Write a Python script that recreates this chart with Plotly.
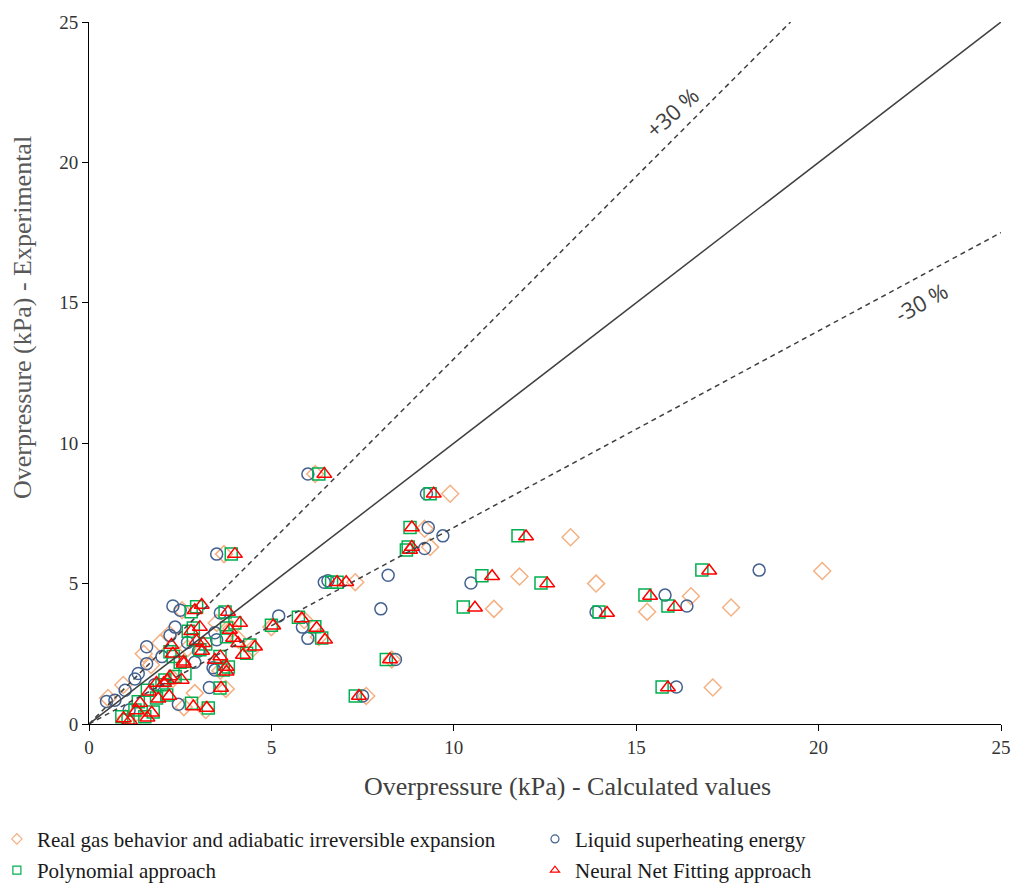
import plotly.graph_objects as go

# ---- data ----
real_gas_x = [6.2, 9.9, 9.2, 9.35, 13.2, 7.3, 11.8, 13.9, 20.1, 11.1,
              16.5, 17.6, 15.3, 17.1, 7.6, 8.3, 3.7, 2.55, 1.95, 0.94,
              0.52, 2.2, 2.7, 3.5, 3.9, 4.5, 3.6, 3.75, 2.6, 1.3,
              1.0, 2.3, 5.0, 5.9, 6.3, 2.9, 3.2, 1.5, 1.7, 4.1]
real_gas_y = [8.9, 8.2, 6.95, 6.3, 6.65, 5.05, 5.25, 5.0, 5.45, 4.1,
              4.55, 4.15, 4.0, 1.3, 1.0, 2.3, 6.05, 4.05, 2.88, 1.39,
              0.93, 3.2, 2.7, 3.6, 3.4, 2.7, 1.9, 1.25, 0.6, 0.4,
              0.2, 1.6, 3.45, 3.7, 3.1, 1.1, 0.5, 2.5, 2.1, 3.0]

lse_x = [6.0, 9.25, 9.3, 9.7, 9.2, 8.2, 6.45, 6.55, 10.47, 18.37,
         8.0, 15.79, 16.39, 13.9, 16.1, 7.5, 8.4, 5.2, 5.85, 6.0,
         3.5, 2.3, 2.5, 3.6, 3.5, 3.4, 3.45, 3.3, 2.45, 1.58,
         1.58, 1.35, 1.26, 0.99, 0.71, 0.48, 2.22, 2.36, 2.0, 2.7,
         3.0, 1.8, 1.1, 2.9, 3.45]
lse_y = [8.9, 8.2, 7.0, 6.7, 6.25, 5.3, 5.05, 5.1, 5.02, 5.48,
         4.1, 4.59, 4.2, 3.99, 1.32, 1.0, 2.3, 3.85, 3.45, 3.05,
         6.05, 4.2, 4.05, 3.95, 3.0, 2.0, 1.92, 1.3, 0.7, 2.75,
         2.15, 1.8, 1.6, 1.2, 0.85, 0.8, 3.15, 3.45, 2.4, 2.9,
         2.6, 1.4, 0.5, 2.2, 3.25]

poly_x = [6.3, 9.35, 8.8, 8.75, 8.7, 11.76, 6.65, 6.8, 10.77, 12.39,
          16.8, 10.26, 15.24, 15.87, 13.98, 15.71, 7.3, 8.15, 5.74, 6.19,
          6.38, 3.9, 5.0, 4.41, 4.32, 2.95, 2.8, 3.73, 4.0, 3.77,
          3.77, 3.59, 3.04, 2.86, 2.86, 3.82, 3.68, 3.59, 2.81, 3.27,
          1.76, 1.85, 0.9, 1.07, 1.53, 1.26, 2.13, 2.08, 2.36, 2.63,
          2.22, 2.72, 2.31, 1.35, 2.5, 2.0, 1.6, 3.2]
poly_y = [8.9, 8.2, 7.0, 6.3, 6.2, 6.7, 5.05, 5.05, 5.28, 5.02,
          5.48, 4.17, 4.59, 4.2, 3.99, 1.32, 1.0, 2.3, 3.8, 3.46,
          3.06, 6.05, 3.52, 2.81, 2.52, 4.18, 4.0, 3.99, 3.6, 3.42,
          3.11, 2.4, 2.64, 3.42, 3.0, 2.03, 1.92, 1.28, 0.74, 0.57,
          0.43, 0.93, 0.26, 0.14, 0.26, 0.5, 1.03, 1.57, 1.69, 1.8,
          2.57, 3.3, 2.4, 0.79, 2.2, 1.4, 1.2, 2.85]

nn_x = [6.45, 9.45, 8.85, 8.85, 8.8, 11.98, 6.8, 7.05, 11.05, 12.56,
        17.0, 10.58, 15.38, 16.06, 14.2, 15.87, 7.4, 8.25, 5.83, 6.24,
        6.47, 4.0, 5.05, 4.55, 4.22, 3.09, 2.9, 3.81, 4.14, 3.86,
        3.95, 3.6, 3.1, 3.04, 2.95, 3.77, 3.77, 3.62, 2.86, 3.23,
        1.72, 1.9, 0.95, 1.12, 1.6, 1.3, 2.2, 2.15, 2.26, 2.59,
        2.3, 2.8, 2.54, 1.4, 2.6, 2.05, 1.65, 3.13, 2.22, 1.85,
        3.45, 4.09]
nn_y = [8.9, 8.2, 7.0, 6.3, 6.2, 6.68, 5.05, 5.05, 5.26, 5.0,
        5.46, 4.14, 4.56, 4.17, 3.95, 1.3, 1.0, 2.3, 3.76, 3.42,
        3.0, 6.05, 3.5, 2.75, 2.46, 4.24, 4.05, 3.99, 3.6, 3.35,
        3.06, 2.4, 2.6, 3.45, 2.95, 2.03, 1.86, 1.28, 0.62, 0.57,
        0.4, 0.9, 0.2, 0.12, 0.22, 0.48, 1.0, 1.55, 2.81, 2.22,
        2.5, 3.3, 1.57, 0.75, 2.15, 1.45, 1.15, 2.88, 1.69, 1.46,
        2.28, 2.88]

series_names = ["Real gas behavior and adiabatic irreversible expansion",
                "Liquid superheating energy",
                "Polynomial approach",
                "Neural Net Fitting approach"]

ideal_x = [0, 25]
ideal_y = [0, 25]
plus30_x = [0, 25 / 1.3]
plus30_y = [0, 25]
minus30_x = [0, 25]
minus30_y = [0, 17.5]

axis_range = [0, 25]
tick_vals = [0, 5, 10, 15, 20, 25]

# ---- styles ----
C_ORANGE = "#F4B183"
C_BLUE = "#44628F"
C_GREEN = "#00B050"
C_RED = "#FF0000"
C_LINE = "#404040"
SERIF = "Liberation Serif, Times New Roman, serif"

fig = go.Figure()

specs = [
    (real_gas_x, real_gas_y, series_names[0], "diamond-open", C_ORANGE, 13, "legend"),
    (lse_x, lse_y, series_names[1], "circle-open", C_BLUE, 12, "legend2"),
    (poly_x, poly_y, series_names[2], "square-open", C_GREEN, 12, "legend"),
    (nn_x, nn_y, series_names[3], "triangle-up-open", C_RED, 13, "legend2"),
]

for xs, ys, name, sym, col, size, lg in specs:
    fig.add_trace(go.Scatter(
        x=xs, y=ys, mode="markers", name=name, showlegend=False,
        marker=dict(symbol=sym, size=size, color=col, line=dict(width=1.5, color=col)),
    ))

# lines drawn on top
fig.add_trace(go.Scatter(x=ideal_x, y=ideal_y, mode="lines", showlegend=False,
                         line=dict(color=C_LINE, width=1.5)))
fig.add_trace(go.Scatter(x=plus30_x, y=plus30_y, mode="lines", showlegend=False,
                         line=dict(color=C_LINE, width=1.5, dash="5px,4px")))
fig.add_trace(go.Scatter(x=minus30_x, y=minus30_y, mode="lines", showlegend=False,
                         line=dict(color=C_LINE, width=1.5, dash="5px,4px")))

# legend-only entries with small markers
for i, (xs, ys, name, sym, col, size, lg) in enumerate(specs):
    fig.add_trace(go.Scatter(
        x=[None], y=[None], mode="markers", name=name, legend=lg,
        legendgroup="g%d" % i, showlegend=True,
        marker=dict(symbol=sym, size=8, color=col, line=dict(width=1.2, color=col)),
    ))

legend_common = dict(
    orientation="v", xanchor="left", yanchor="top",
    font=dict(family=SERIF, size=21, color="#1a1a1a"),
    bgcolor="rgba(0,0,0,0)", tracegroupgap=1, itemwidth=30,
)

fig.update_layout(
    width=1016, height=886,
    margin=dict(l=89, r=15, t=22, b=162, autoexpand=False),
    paper_bgcolor="white", plot_bgcolor="white",
    showlegend=True,
    legend=dict(x=-0.101, y=-0.135, **legend_common),
    legend2=dict(x=0.489, y=-0.135, **legend_common),
    xaxis=dict(range=axis_range, tickvals=tick_vals, showgrid=False, zeroline=False,
               showline=True, linecolor="black", linewidth=1,
               ticks="outside", ticklen=6, tickcolor="black",
               tickfont=dict(family=SERIF, size=19, color="#333333")),
    yaxis=dict(range=axis_range, tickvals=tick_vals, showgrid=False, zeroline=False,
               showline=True, linecolor="black", linewidth=1,
               ticks="outside", ticklen=6, tickcolor="black",
               tickfont=dict(family=SERIF, size=19, color="#333333")),
    annotations=[
        dict(text="Overpressure (kPa) - Calculated values", xref="paper", yref="paper",
             x=(567 - 89) / 912, y=(724 - 787) / 702, xanchor="center", yanchor="middle",
             showarrow=False, font=dict(family=SERIF, size=26, color="#404040")),
        dict(text="Overpressure (kPa) - Experimental", xref="paper", yref="paper",
             x=(22 - 89) / 912, y=(724 - 318) / 702, xanchor="center", yanchor="middle",
             textangle=-90, showarrow=False,
             font=dict(family=SERIF, size=26, color="#595959")),
        dict(text="+30 %", x=15.98, y=21.8, xref="x", yref="y", showarrow=False,
             textangle=-42, font=dict(family="Open Sans, sans-serif", size=22, color="#404040")),
        dict(text="-30 %", x=22.8, y=15.03, xref="x", yref="y", showarrow=False,
             textangle=-29, font=dict(family="Open Sans, sans-serif", size=22, color="#404040")),
    ],
)

fig.write_html("out.html")
